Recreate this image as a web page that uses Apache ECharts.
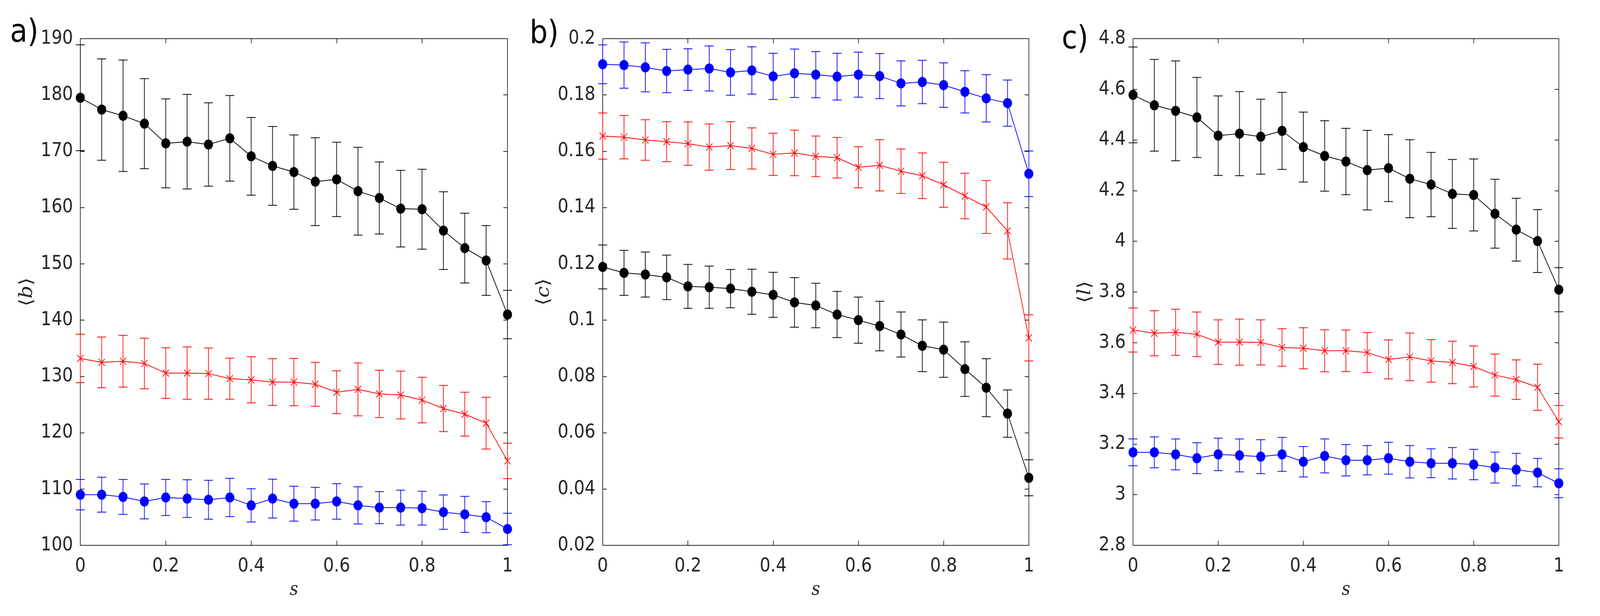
<!DOCTYPE html>
<html>
<head>
<meta charset="utf-8">
<script src="https://cdn.jsdelivr.net/npm/echarts@6/dist/echarts.min.js"></script>
<style>
html, body { margin: 0; padding: 0; background: #fff; overflow: hidden; }
#chart { width: 4622px; height: 1578px; transform-origin: 0 0; }
</style>
</head>
<body>
<div id="chart"></div>
<script>
// x values shared by all three panels
const sValues = [0, 0.05, 0.1, 0.15, 0.2, 0.25, 0.3, 0.35, 0.4, 0.45, 0.5, 0.55, 0.6, 0.65, 0.7, 0.75, 0.8, 0.85, 0.9, 0.95, 1];

// panel a) <b>
const bBlack    = [179.5, 177.4, 176.3, 174.9, 171.4, 171.7, 171.2, 172.3, 169.1, 167.4, 166.3, 164.6, 165.0, 162.9, 161.7, 159.8, 159.7, 155.9, 152.8, 150.6, 141.0];
const bBlackErr = [9.4, 9.0, 9.9, 8.0, 7.9, 8.4, 7.4, 7.6, 6.9, 7.0, 6.6, 7.8, 6.6, 7.8, 6.4, 6.8, 7.1, 6.9, 6.2, 6.2, 4.3];
const bRed      = [133.2, 132.5, 132.7, 132.3, 130.6, 130.6, 130.5, 129.6, 129.4, 129.0, 129.0, 128.6, 127.2, 127.7, 126.9, 126.7, 125.8, 124.3, 123.3, 121.7, 115.0];
const bRedErr   = [4.3, 4.5, 4.6, 4.5, 4.5, 4.65, 4.55, 3.65, 4.1, 4.15, 4.2, 3.9, 3.8, 4.7, 4.2, 4.25, 4.05, 4.1, 3.9, 4.6, 3.15];
const bBlue     = [109.0, 109.0, 108.6, 107.8, 108.5, 108.3, 108.1, 108.5, 107.1, 108.3, 107.4, 107.4, 107.8, 107.1, 106.7, 106.7, 106.6, 105.9, 105.5, 105.0, 102.9];
const bBlueErr  = [2.7, 3.1, 3.1, 3.1, 3.2, 3.35, 3.45, 3.4, 2.95, 3.45, 3.1, 2.9, 3.15, 3.3, 2.85, 3.1, 3.0, 3.05, 3.2, 2.75, 2.8];

// panel b) <c>
const cBlue     = [0.1909, 0.1906, 0.1898, 0.1885, 0.1890, 0.1894, 0.1880, 0.1887, 0.1866, 0.1877, 0.1872, 0.1865, 0.1872, 0.1867, 0.1841, 0.1846, 0.1835, 0.1811, 0.1788, 0.1771, 0.1520];
const cBlueErr  = [0.0069, 0.0082, 0.0087, 0.0077, 0.0074, 0.0080, 0.0081, 0.0084, 0.0082, 0.0086, 0.0082, 0.0083, 0.0080, 0.0080, 0.0080, 0.0077, 0.0079, 0.0075, 0.0084, 0.0082, 0.0081];
const cRed      = [0.1654, 0.1650, 0.1640, 0.1634, 0.1627, 0.1615, 0.1620, 0.1610, 0.1589, 0.1594, 0.1582, 0.1577, 0.1543, 0.1550, 0.1529, 0.1513, 0.1481, 0.1441, 0.1402, 0.1317, 0.0937];
const cRedErr   = [0.0082, 0.0077, 0.0072, 0.0071, 0.0077, 0.0082, 0.0085, 0.0073, 0.0075, 0.0081, 0.0072, 0.0072, 0.0073, 0.0091, 0.0079, 0.0081, 0.0080, 0.0081, 0.0094, 0.0100, 0.0082];
const cBlack    = [0.1189, 0.1168, 0.1162, 0.1152, 0.1120, 0.1117, 0.1112, 0.1101, 0.1090, 0.1063, 0.1052, 0.1020, 0.1000, 0.0979, 0.0949, 0.0909, 0.0895, 0.0826, 0.0760, 0.0668, 0.0440];
const cBlackErr = [0.0078, 0.0080, 0.0080, 0.0079, 0.0078, 0.0075, 0.0068, 0.0080, 0.0080, 0.0088, 0.0079, 0.0082, 0.0082, 0.0088, 0.0080, 0.0092, 0.0098, 0.0097, 0.0103, 0.0084, 0.0064];

// panel c) <l>
const lBlack    = [4.578, 4.537, 4.515, 4.489, 4.417, 4.425, 4.413, 4.436, 4.372, 4.337, 4.315, 4.281, 4.289, 4.247, 4.224, 4.187, 4.183, 4.109, 4.046, 4.001, 3.809];
const lBlackErr = [0.189, 0.181, 0.197, 0.158, 0.157, 0.166, 0.148, 0.152, 0.138, 0.139, 0.131, 0.157, 0.132, 0.154, 0.127, 0.136, 0.142, 0.136, 0.124, 0.124, 0.087];
const lRed      = [3.650, 3.637, 3.641, 3.633, 3.602, 3.602, 3.601, 3.581, 3.578, 3.568, 3.568, 3.561, 3.534, 3.544, 3.528, 3.522, 3.506, 3.472, 3.454, 3.424, 3.288];
const lRedErr   = [0.087, 0.089, 0.091, 0.088, 0.088, 0.091, 0.089, 0.074, 0.081, 0.083, 0.082, 0.079, 0.077, 0.094, 0.084, 0.084, 0.081, 0.083, 0.078, 0.091, 0.064];
const lBlue     = [3.167, 3.167, 3.159, 3.144, 3.159, 3.155, 3.150, 3.159, 3.130, 3.153, 3.136, 3.136, 3.144, 3.130, 3.124, 3.124, 3.119, 3.107, 3.099, 3.087, 3.045];
const lBlueErr  = [0.053, 0.061, 0.061, 0.061, 0.064, 0.065, 0.067, 0.067, 0.060, 0.067, 0.062, 0.058, 0.063, 0.064, 0.057, 0.062, 0.060, 0.061, 0.064, 0.056, 0.057];

const RED = '#ff0000', BLUE = '#0000ff', BLACK = '#000000', AXIS = '#262626';

// the chart is laid out on a 4622 x 1578 page; squeeze it into the real viewport
const el = document.getElementById('chart');
el.style.transform = 'scale(' + (window.innerWidth / 4622) + ',' + (window.innerHeight / 1578) + ')';

const panels = [
  { tag: 'a)', yName: 'b', min: 100, max: 190, step: 10, left: 232, width: 1234, nameGap: 128, tagX: 29, tagY: 93,
    lines: [[bBlack, bBlackErr, BLACK, false], [bRed, bRedErr, RED, true], [bBlue, bBlueErr, BLUE, false]] },
  { tag: 'b)', yName: 'c', min: 0.02, max: 0.2, step: 0.02, left: 1741, width: 1231, nameGap: 144, tagX: 1530, tagY: 96,
    lines: [[cBlack, cBlackErr, BLACK, false], [cRed, cRedErr, RED, true], [cBlue, cBlueErr, BLUE, false]] },
  { tag: 'c)', yName: 'l', min: 2.8, max: 4.8, step: 0.2, left: 3273, width: 1230, nameGap: 112, tagX: 3067, tagY: 110,
    lines: [[lBlack, lBlackErr, BLACK, false], [lRed, lRedErr, RED, true], [lBlue, lBlueErr, BLUE, false]] }
];

const TOP = 99, HEIGHT = 1298;
const axisLine = { show: true, onZero: false, lineStyle: { color: AXIS, width: 2 } };
const axisTick = { show: true, inside: true, length: 12, lineStyle: { color: AXIS, width: 2 } };
const tickFont = { fontFamily: 'DejaVu Sans', fontSize: 49, color: AXIS };

function errorBarRenderer(color, cross) {
  return function (params, api) {
    const x = api.value(0), y = api.value(1), e = api.value(2);
    const hi = api.coord([x, y + e]);
    const lo = api.coord([x, y - e]);
    const cap = 13;
    const st = { stroke: color, lineWidth: 2, fill: null };
    const kids = [
      { type: 'line', shape: { x1: hi[0], y1: hi[1], x2: lo[0], y2: lo[1] }, style: st },
      { type: 'line', shape: { x1: hi[0] - cap, y1: hi[1], x2: hi[0] + cap, y2: hi[1] }, style: st },
      { type: 'line', shape: { x1: lo[0] - cap, y1: lo[1], x2: lo[0] + cap, y2: lo[1] }, style: st }
    ];
    if (cross) {
      const c = api.coord([x, y]), r = 9;
      kids.push({ type: 'line', shape: { x1: c[0] - r, y1: c[1] - r, x2: c[0] + r, y2: c[1] + r }, style: st });
      kids.push({ type: 'line', shape: { x1: c[0] - r, y1: c[1] + r, x2: c[0] + r, y2: c[1] - r }, style: st });
    }
    return { type: 'group', children: kids };
  };
}

const grid = [], xAxis = [], yAxis = [], series = [], graphic = [];

panels.forEach((p, i) => {
  grid.push({ left: p.left, top: TOP, width: p.width, height: HEIGHT });
  xAxis.push({
    gridIndex: i, type: 'value', min: 0, max: 1, interval: 0.2, position: 'bottom',
    axisLine, axisTick, splitLine: { show: false },
    axisLabel: Object.assign({ margin: 30 }, tickFont),
    name: 's', nameLocation: 'middle', nameGap: 91,
    nameTextStyle: { fontFamily: 'DejaVu Serif', fontStyle: 'italic', fontSize: 48, color: AXIS }
  });
  xAxis.push({
    gridIndex: i, type: 'value', min: 0, max: 1, interval: 0.2, position: 'top',
    axisLine, axisTick, splitLine: { show: false }, axisLabel: { show: false }
  });
  yAxis.push({
    gridIndex: i, type: 'value', min: p.min, max: p.max, interval: p.step, position: 'left',
    axisLine, axisTick, splitLine: { show: false },
    axisLabel: Object.assign({ margin: 21 }, tickFont),
    name: '{n|⟨}{i|' + p.yName + '}{n|⟩}', nameLocation: 'middle', nameGap: p.nameGap,
    nameTextStyle: {
      color: AXIS,
      rich: {
        n: { fontFamily: 'DejaVu Serif', fontSize: 52, color: AXIS },
        i: { fontFamily: 'DejaVu Serif', fontStyle: 'italic', fontSize: 52, color: AXIS }
      }
    }
  });
  yAxis.push({
    gridIndex: i, type: 'value', min: p.min, max: p.max, interval: p.step, position: 'right',
    axisLine, axisTick, splitLine: { show: false }, axisLabel: { show: false }
  });

  p.lines.forEach(([vals, errs, color, cross]) => {
    series.push({
      type: 'custom', xAxisIndex: 2 * i, yAxisIndex: 2 * i,
      data: sValues.map((s, j) => [s, vals[j], errs[j]]),
      encode: { x: 0, y: 1 },
      renderItem: errorBarRenderer(color, cross),
      clip: false, silent: true, z: 2
    });
    series.push({
      type: 'line', xAxisIndex: 2 * i, yAxisIndex: 2 * i,
      data: sValues.map((s, j) => [s, vals[j]]),
      lineStyle: { color, width: 2 },
      itemStyle: { color },
      symbol: cross ? 'none' : 'circle',
      symbolSize: 26,
      showAllSymbol: true,
      silent: true, z: 3
    });
  });

  graphic.push({
    type: 'text', left: p.tagX, top: p.tagY - 48,
    style: { text: p.tag, fontFamily: 'DejaVu Sans', fontSize: 82, fill: '#000' }
  });
});

const chart = echarts.init(el, null, { width: 4622, height: 1578 });
chart.setOption({
  animation: false,
  backgroundColor: '#fff',
  grid, xAxis, yAxis, series, graphic
});
</script>
</body>
</html>
